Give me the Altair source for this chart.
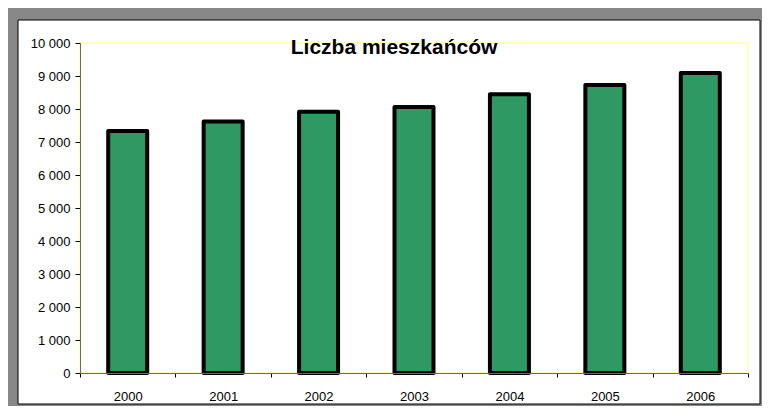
import altair as alt
import pandas as pd

years = ["2000", "2001", "2002", "2003", "2004", "2005", "2006"]
values = [7330, 7620, 7920, 8060, 8450, 8730, 9090]
title_text = "Liczba mieszkańców"
y_ticks = list(range(0, 10001, 1000))

W, H = 668, 330
df = pd.DataFrame({"rok": years, "liczba": values})
one = pd.DataFrame({"k": [0]})

frame = alt.Chart(one).mark_rect(fill="white", stroke="black", strokeWidth=1).encode(
    x=alt.value(-62), x2=alt.value(680), y=alt.value(-23), y2=alt.value(361)
)

plot_border = alt.Chart(one).mark_rect(fillOpacity=0, stroke="#ffffc0", strokeWidth=2).encode(
    x=alt.value(0), x2=alt.value(W), y=alt.value(0), y2=alt.value(H)
)

bars = alt.Chart(df).mark_bar(
    size=39, fill="#2f9963", stroke="black", strokeWidth=4, strokeJoin="round"
).encode(
    x=alt.X(
        "rok:N",
        sort=years,
        scale=alt.Scale(paddingInner=0, paddingOuter=0),
        axis=alt.Axis(
            title=None, labelAngle=0, tickBand="extent", tickSize=4, tickColor="black",
            domainColor="#6e6e38", labelPadding=13, labelFontSize=13, labelColor="black",
            zindex=1,
        ),
    ),
    y=alt.Y(
        "liczba:Q",
        scale=alt.Scale(domain=[0, 10000], nice=False),
        axis=alt.Axis(
            title=None, values=y_ticks, tickSize=5, tickColor="black", domainColor="#6e6e38",
            labelPadding=5, labelFontSize=13, labelColor="black", grid=False,
            labelExpr="replace(format(datum.value, ','), ',', ' ')", zindex=1,
        ),
    ),
)

title = alt.Chart(one).mark_text(
    text=title_text, fontSize=21, fontWeight="bold", align="center", baseline="alphabetic", color="black"
).encode(x=alt.value(314), y=alt.value(10.5))

chart = alt.layer(frame, plot_border, bars, title).properties(
    width=W,
    height=H,
    autosize=alt.AutoSizeParams(type="none"),
    padding={"left": 72, "top": 35, "right": 14, "bottom": 33},
    background="#888888",
).configure(font="Liberation Sans").configure_view(strokeWidth=0)

chart.save("out.html", embed_options={"renderer": "svg", "actions": False})
